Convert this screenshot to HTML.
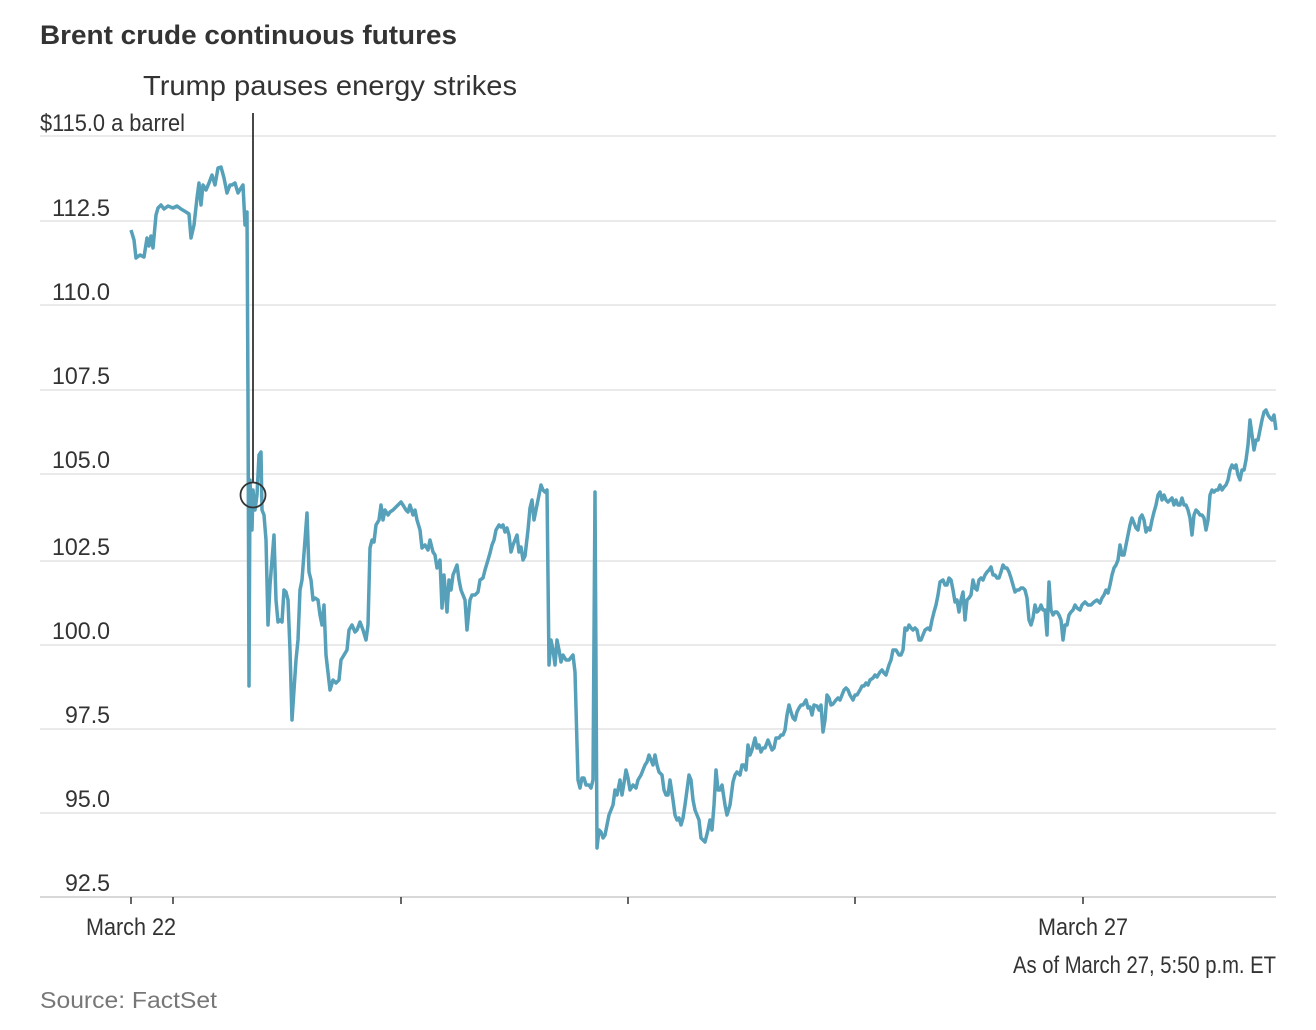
<!DOCTYPE html>
<html><head><meta charset="utf-8"><style>
html,body{margin:0;padding:0;background:#fff;}
svg{display:block;}
text{font-family:"Liberation Sans Narrow","Liberation Sans",sans-serif;fill:#333;}
</style></head><body>
<svg width="1316" height="1030" viewBox="0 0 1316 1030" xmlns="http://www.w3.org/2000/svg">
<text x="40" y="44" font-size="27" font-weight="bold" font-family="Liberation Sans, sans-serif" textLength="417" lengthAdjust="spacingAndGlyphs">Brent crude continuous futures</text>
<g stroke="#e3e3e3" stroke-width="1.5">
<line x1="40" x2="1276" y1="136" y2="136"/>
<line x1="40" x2="1276" y1="221" y2="221"/>
<line x1="40" x2="1276" y1="305" y2="305"/>
<line x1="40" x2="1276" y1="390" y2="390"/>
<line x1="40" x2="1276" y1="474" y2="474"/>
<line x1="40" x2="1276" y1="561" y2="561"/>
<line x1="40" x2="1276" y1="645" y2="645"/>
<line x1="40" x2="1276" y1="729" y2="729"/>
<line x1="40" x2="1276" y1="813" y2="813"/>
</g>
<line x1="40" x2="1276" y1="897" y2="897" stroke="#ccc" stroke-width="1.5"/>
<g stroke="#333" stroke-width="1.5">
<line x1="131" x2="131" y1="897" y2="904"/>
<line x1="173" x2="173" y1="897" y2="904"/>
<line x1="401" x2="401" y1="897" y2="904"/>
<line x1="628" x2="628" y1="897" y2="904"/>
<line x1="855" x2="855" y1="897" y2="904"/>
<line x1="1083" x2="1083" y1="897" y2="904"/>
</g>
<g font-size="24">
<text x="40" y="131" textLength="145" lengthAdjust="spacingAndGlyphs">$115.0 a barrel</text>
<g text-anchor="end">
<text x="110" y="216" textLength="58" lengthAdjust="spacingAndGlyphs">112.5</text>
<text x="110" y="300" textLength="58" lengthAdjust="spacingAndGlyphs">110.0</text>
<text x="110" y="384" textLength="58" lengthAdjust="spacingAndGlyphs">107.5</text>
<text x="110" y="468" textLength="58" lengthAdjust="spacingAndGlyphs">105.0</text>
<text x="110" y="555" textLength="58" lengthAdjust="spacingAndGlyphs">102.5</text>
<text x="110" y="639" textLength="58" lengthAdjust="spacingAndGlyphs">100.0</text>
<text x="110" y="723" textLength="45" lengthAdjust="spacingAndGlyphs">97.5</text>
<text x="110" y="807" textLength="45" lengthAdjust="spacingAndGlyphs">95.0</text>
<text x="110" y="891" textLength="45" lengthAdjust="spacingAndGlyphs">92.5</text>
<text x="1276" y="973" textLength="263" lengthAdjust="spacingAndGlyphs">As of March 27, 5:50 p.m. ET</text>
</g>
<text x="131" y="935" text-anchor="middle" textLength="90" lengthAdjust="spacingAndGlyphs">March 22</text>
<text x="1083" y="935" text-anchor="middle" textLength="90" lengthAdjust="spacingAndGlyphs">March 27</text>
</g>
<text x="143" y="95" font-size="28" font-family="Liberation Sans, sans-serif" textLength="374" lengthAdjust="spacingAndGlyphs">Trump pauses energy strikes</text>
<text x="40" y="1008" font-size="23" font-family="Liberation Sans, sans-serif" style="fill:#777" textLength="177" lengthAdjust="spacingAndGlyphs">Source: FactSet</text>
<polyline fill="none" stroke="#56a0ba" stroke-width="3.5" stroke-linejoin="round" points="131,230 134,240 136,258 140,255 144,257 147,238 149,246 151,236 153,248 156,215 158,208 161,205 164,209 168,206 173,208 177,206 181,209 186,212 189,214 191,238 194,225 197,198 199,183 201,205 203,185 206,190 209,183 212,175 215,185 218,168 221,167 224,178 227,193 230,185 232,185 235,183 238,193 241,188 243,185 245,225 247,212 248,400 249,686 250,480 252,530 253,490 255,510 257,495 259,455 261,452 262,510 264,515 266,540 268,625 270,585 272,560 274,535 276,600 278,622 280,620 282,622 284,590 286,592 288,600 290,650 292,720 294,690 296,660 298,640 300,590 302,580 305,540 307,513 309,572 311,580 313,600 315,598 318,600 320,615 322,625 324,605 326,655 330,690 333,680 336,683 339,680 341,660 344,655 347,650 349,630 352,625 355,632 357,630 360,622 363,630 366,640 368,625 370,548 372,540 374,542 376,525 379,520 381,505 383,520 385,510 388,515 390,512 393,510 395,508 398,505 401,502 403,505 406,510 408,512 410,505 413,515 415,510 417,520 420,530 422,548 425,545 428,550 430,540 433,552 435,555 437,568 440,560 442,608 444,575 447,612 449,580 451,590 453,575 455,570 457,565 459,580 461,590 463,595 465,600 467,630 470,600 472,595 475,595 478,592 480,580 483,578 485,570 488,560 490,553 492,545 494,540 496,530 499,525 501,527 503,525 505,532 507,528 509,535 511,552 513,545 515,540 517,535 519,552 521,547 523,560 525,556 528,530 530,508 532,500 534,520 536,510 538,500 541,485 543,490 545,492 547,490 549,665 551,640 553,650 555,665 557,640 559,650 561,662 563,655 566,660 569,660 573,655 575,672 578,780 580,788 582,778 584,778 586,785 589,785 591,788 593,780 595,492 597,848 599,830 601,832 603,838 605,835 607,825 609,815 611,810 613,805 615,790 617,795 620,780 622,795 624,783 626,770 628,778 630,790 633,785 636,788 638,780 641,775 643,770 645,765 647,762 649,755 651,760 653,765 655,755 657,765 659,772 662,775 664,790 666,795 668,795 670,780 673,800 675,815 677,820 679,818 681,825 683,818 685,805 687,790 689,775 691,780 693,800 695,810 697,815 699,820 701,838 705,842 708,830 710,820 712,830 714,805 716,770 718,790 720,790 722,785 725,805 727,815 730,805 733,782 735,775 737,772 740,775 742,765 744,765 746,770 748,745 750,755 752,750 755,738 757,748 759,745 761,752 763,748 765,748 768,740 770,745 772,750 774,748 776,738 779,738 781,735 783,735 785,730 787,715 789,705 791,712 793,718 795,720 797,712 799,708 801,705 803,705 806,700 808,708 810,707 812,715 814,705 817,706 819,710 821,705 823,732 825,720 827,695 829,698 831,705 833,704 836,700 838,698 840,700 842,695 844,690 846,688 848,690 850,695 853,700 855,695 857,695 860,690 862,686 864,686 866,683 868,685 870,680 873,678 875,675 877,677 880,672 882,670 884,673 886,675 889,665 891,660 893,650 896,650 899,655 901,655 903,650 905,628 907,630 909,625 911,628 913,630 915,628 917,630 919,640 921,640 923,635 925,630 928,628 930,630 932,620 934,612 936,605 938,595 940,582 943,580 945,585 947,585 949,578 951,580 953,590 955,602 957,600 959,612 961,600 963,592 965,620 967,600 969,598 971,595 973,580 975,588 977,590 979,580 981,578 983,580 985,575 987,572 989,570 991,567 993,575 995,575 997,578 999,578 1001,572 1003,565 1005,568 1007,568 1009,572 1011,578 1013,585 1015,592 1017,590 1019,590 1021,588 1023,588 1025,590 1027,598 1029,620 1031,625 1033,618 1035,605 1037,612 1039,610 1041,605 1043,610 1045,610 1047,635 1049,582 1051,610 1053,615 1055,612 1057,612 1059,615 1061,620 1063,640 1065,625 1067,625 1069,615 1071,612 1073,610 1075,605 1077,608 1080,610 1082,605 1085,602 1088,605 1091,605 1094,602 1097,600 1100,603 1102,598 1104,595 1106,590 1108,593 1110,585 1112,575 1114,568 1116,565 1118,560 1120,545 1122,555 1124,555 1126,545 1128,535 1130,525 1132,518 1134,523 1136,528 1138,530 1140,518 1142,515 1144,520 1146,532 1148,528 1150,530 1152,520 1154,512 1156,505 1158,495 1160,492 1162,500 1164,495 1166,500 1168,502 1170,500 1172,498 1174,505 1176,500 1178,505 1180,505 1182,498 1184,505 1186,505 1188,510 1190,518 1192,535 1194,515 1196,510 1198,512 1200,515 1202,515 1204,518 1206,530 1208,520 1210,495 1212,490 1214,492 1216,490 1218,490 1220,485 1222,490 1224,487 1226,485 1228,480 1230,470 1232,465 1234,468 1236,465 1238,475 1240,480 1242,470 1244,470 1246,460 1248,445 1250,420 1252,435 1254,450 1256,440 1258,440 1260,430 1262,420 1264,412 1266,410 1268,415 1270,418 1272,420 1274,415 1276,430"/>
<line x1="253" x2="253" y1="113" y2="483" stroke="#333" stroke-width="1.8"/>
<circle cx="253" cy="495" r="12.5" fill="none" stroke="#333" stroke-width="1.8"/>
</svg>
</body></html>
